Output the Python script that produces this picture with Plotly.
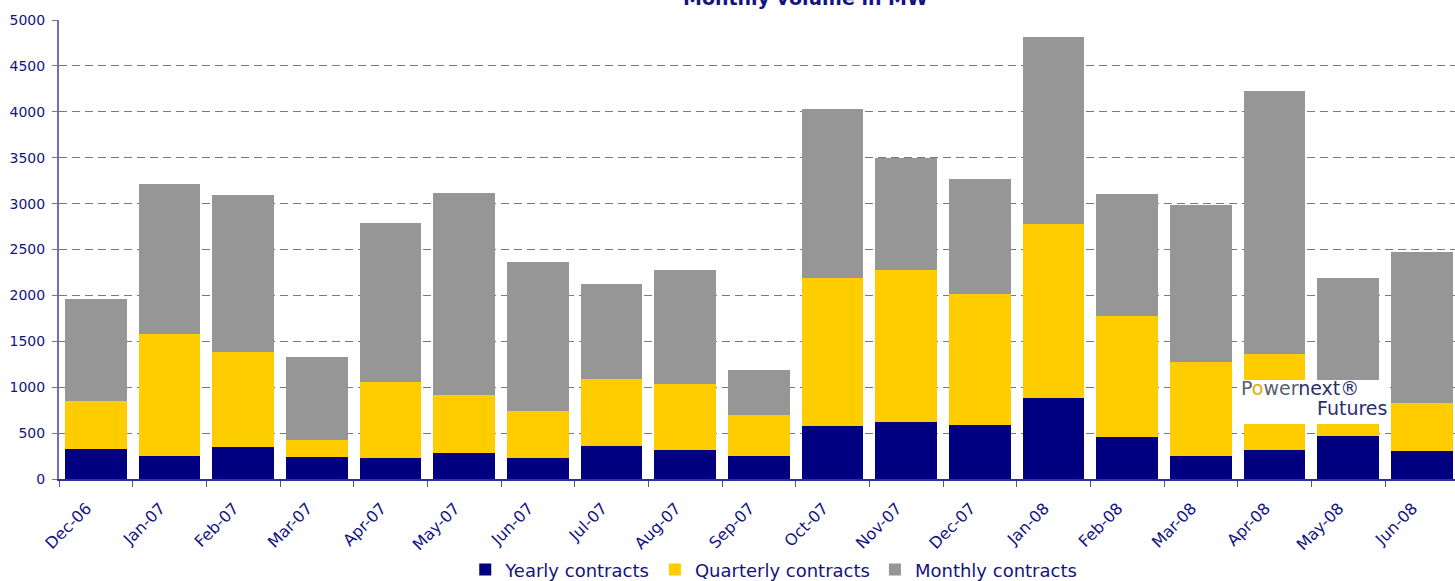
import plotly.graph_objects as go

months = ["Dec-06", "Jan-07", "Feb-07", "Mar-07", "Apr-07", "May-07", "Jun-07", "Jul-07",
          "Aug-07", "Sep-07", "Oct-07", "Nov-07", "Dec-07", "Jan-08", "Feb-08", "Mar-08",
          "Apr-08", "May-08", "Jun-08"]

# cumulative heights
yearly_top = [327, 254, 352, 240, 229, 283, 229, 359, 316, 251, 577, 621, 588, 882, 457, 251, 316, 468, 305]
quarterly_top = [850, 1583, 1383, 425, 1060, 915, 741, 1089, 1035, 697, 2190, 2277, 2015, 2778, 1776, 1274, 1362, 620, 828]
total_top = [1961, 3213, 3094, 1329, 2789, 3115, 2364, 2124, 2277, 1187, 4030, 3497, 3268, 4815, 3104, 2985, 4226, 2190, 2473]

yearly = yearly_top
quarterly = [q - y for q, y in zip(quarterly_top, yearly_top)]
monthly = [t - q for t, q in zip(total_top, quarterly_top)]

y_ticks = list(range(0, 5001, 500))

NAVY = "#000080"
TXT = "#141480"
FONT = "DejaVu Sans, Verdana, sans-serif"

fig = go.Figure()
fig.add_trace(go.Bar(x=months, y=yearly, name="Yearly contracts", marker=dict(color=NAVY, line=dict(width=0))))
fig.add_trace(go.Bar(x=months, y=quarterly, name="Quarterly contracts", marker=dict(color="#FFCC00", line=dict(width=0))))
fig.add_trace(go.Bar(x=months, y=monthly, name="Monthly contracts", marker=dict(color="#969696", line=dict(width=0))))

fig.update_layout(
    barmode="stack",
    bargap=0.16,
    width=1455, height=581,
    margin=dict(l=59, r=0, t=20, b=102, autoexpand=False),
    plot_bgcolor="white", paper_bgcolor="white",
    font=dict(family=FONT, color=TXT, size=14),
    showlegend=True,
    legend=dict(orientation="h", x=0.512, xanchor="center", xref="paper",
                y=-0.198, yanchor="middle", yref="paper", bgcolor="rgba(0,0,0,0)",
                font=dict(size=18, color=TXT, family=FONT), traceorder="normal",
                itemwidth=30, tracegroupgap=0),
    xaxis=dict(type="category", tickson="boundaries", ticks="outside", ticklen=6,
               tickcolor="#5050a8", showline=True, linecolor="#3030a0", linewidth=1.5,
               range=[-0.5, 18.45], automargin=False,
               ticklabelstandoff=12, ticklabelshift=-9,
               tickangle=-45, tickfont=dict(size=16, color=TXT), showgrid=False),
    yaxis=dict(range=[0, 5000], tickvals=y_ticks, ticks="outside", ticklen=5, tickcolor="#7070b8",
               showline=True, linecolor="#7070b8", linewidth=2, automargin=False,
               ticklabelstandoff=4,
               showgrid=True, gridcolor="#7a7a7a", griddash="8px,5px", gridwidth=1,
               tickfont=dict(size=14, color=TXT), zeroline=False),
    bargroupgap=0,
)

# partially cut title
fig.add_annotation(text="<b>Monthly volume in MW</b>", xref="paper", yref="paper",
                   x=0.535, y=1.0, yshift=22, yanchor="middle", showarrow=False,
                   font=dict(size=19, color=TXT, family=FONT))

# logo overlay (white card with text)
fig.add_shape(type="rect", xref="paper", yref="paper", x0=0.8446, x1=0.9534, y0=0.1198, y1=0.2157,
              fillcolor="white", line=dict(width=0), layer="above")
fig.add_annotation(
    text=("<span style='color:#5a5f6e'>P</span><span style='color:#e8a800'>o</span>"
          "<span style='color:#5a5f6e'>wer</span><span style='color:#2b2f6b'>next®</span>"),
    xref="paper", yref="paper", x=0.8455, y=0.199, xanchor="left", yanchor="middle",
    showarrow=False, font=dict(size=19, family=FONT))
fig.add_annotation(
    text="Futures", xref="paper", yref="paper", x=0.9525, y=0.155, xanchor="right", yanchor="middle",
    showarrow=False, font=dict(size=19, family=FONT, color="#2b2f6b"))

fig.write_html("out.html", config={"displayModeBar": False},
               post_script="document.body.style.margin='0';")
